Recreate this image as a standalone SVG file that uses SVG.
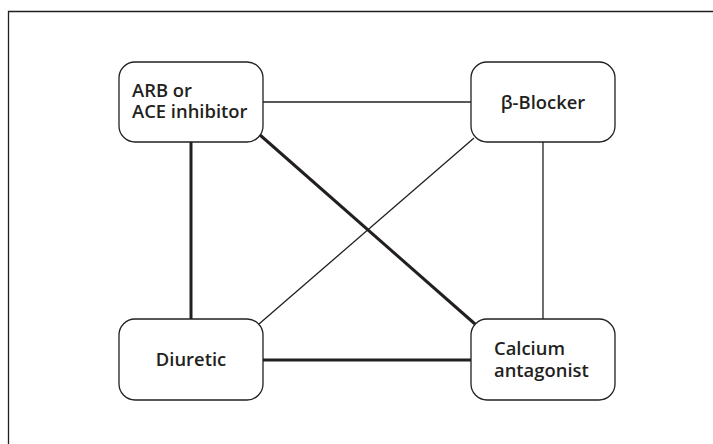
<svg xmlns="http://www.w3.org/2000/svg" width="713" height="444" viewBox="0 0 713 444">
<style>
.frame{fill:none;stroke:#231f20;stroke-width:1.3}
.box{fill:#fff;stroke:#231f20;stroke-width:1.3}
.thin{stroke:#231f20;stroke-width:1.3;fill:none}
.thick{stroke:#231f20;stroke-width:3;fill:none}
.lbl{font-family:"Open Sans","Noto Sans",sans-serif;font-weight:600;font-size:18.4px;fill:#231f20}
</style>
<rect width="713" height="444" fill="#fff"/>
<path class="frame" d="M8.5,444 V11.5 H713"/>
<g id="connectors">
<line class="thin" x1="263" y1="102" x2="471" y2="102"/>
<line class="thick" x1="191" y1="142" x2="191" y2="319"/>
<line class="thin" x1="543" y1="142" x2="543" y2="319"/>
<line class="thick" x1="263" y1="360" x2="471" y2="360"/>
<line class="thick" x1="260" y1="135" x2="475" y2="324"/>
<line class="thin" x1="474" y1="138" x2="259" y2="324"/>
</g>
<g id="arb">
<rect class="box" x="119" y="62" width="144" height="80" rx="16"/>
<text class="lbl" x="132" y="97">ARB or</text>
<text class="lbl" x="132" y="118">ACE inhibitor</text>
</g>
<g id="beta">
<rect class="box" x="471" y="62" width="144" height="80" rx="16"/>
<text class="lbl" x="543" y="109" text-anchor="middle">β-Blocker</text>
</g>
<g id="diuretic">
<rect class="box" x="119" y="319" width="144" height="81" rx="16"/>
<text class="lbl" x="191" y="366" text-anchor="middle">Diuretic</text>
</g>
<g id="calcium">
<rect class="box" x="471" y="319" width="144" height="81" rx="16"/>
<text class="lbl" x="494" y="355">Calcium</text>
<text class="lbl" x="494" y="377">antagonist</text>
</g>
</svg>
